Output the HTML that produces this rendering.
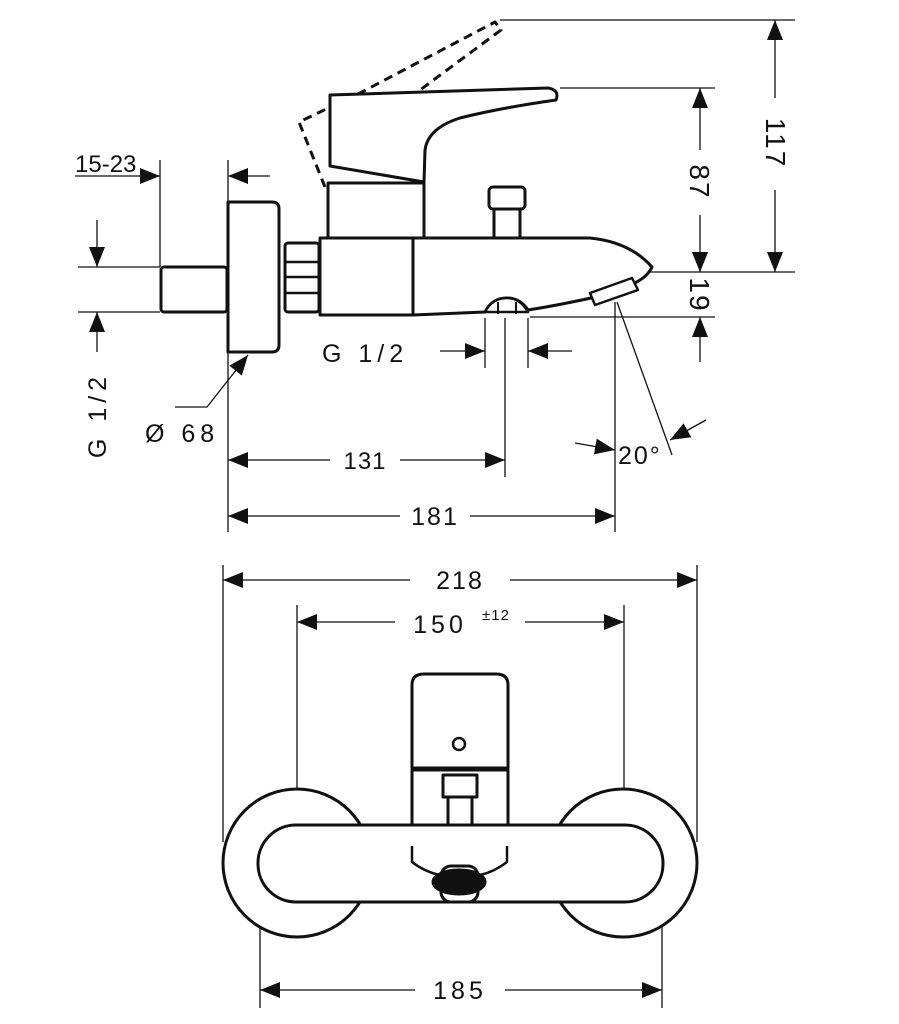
<!DOCTYPE html>
<html><head><meta charset="utf-8"><style>
html,body{margin:0;padding:0;background:#fff}
svg{display:block}
text{font-family:"Liberation Sans",sans-serif;font-size:25px;fill:#111;letter-spacing:2px}
</style></head><body>
<svg width="899" height="1024" viewBox="0 0 899 1024" xmlns="http://www.w3.org/2000/svg">
<defs>
<marker id="a" markerUnits="userSpaceOnUse" markerWidth="22" markerHeight="18" refX="20" refY="8" orient="auto">
<path d="M0,0 L20,8 L0,16 Z" fill="#111"/></marker>
</defs>
<g stroke="#111" fill="none" stroke-width="1.3">
<line x1="500" y1="20" x2="795" y2="20"/>
<line x1="560" y1="88" x2="715" y2="88"/>
<line x1="650" y1="272" x2="795" y2="272"/>
<line x1="530" y1="317" x2="715" y2="317"/>
<line x1="160" y1="160" x2="160" y2="267"/>
<line x1="228" y1="160" x2="228" y2="202"/>
<line x1="78" y1="267" x2="160" y2="267"/>
<line x1="78" y1="312" x2="160" y2="312"/>
<line x1="485" y1="318" x2="485" y2="368"/>
<line x1="528" y1="318" x2="528" y2="368"/>
<line x1="505" y1="318" x2="505" y2="477"/>
<line x1="228" y1="352" x2="228" y2="532"/>
<line x1="615" y1="302" x2="615" y2="532"/>
<line x1="617" y1="302" x2="672" y2="455"/>
<line x1="775" y1="98" x2="775" y2="20" marker-end="url(#a)"/>
<line x1="775" y1="190" x2="775" y2="272" marker-end="url(#a)"/>
<line x1="700" y1="150" x2="700" y2="88" marker-end="url(#a)"/>
<line x1="700" y1="215" x2="700" y2="272" marker-end="url(#a)"/>
<line x1="700" y1="362" x2="700" y2="317" marker-end="url(#a)"/>
<line x1="75" y1="176" x2="160" y2="176" marker-end="url(#a)"/>
<line x1="270" y1="176" x2="228" y2="176" marker-end="url(#a)"/>
<line x1="97" y1="220" x2="97" y2="267" marker-end="url(#a)"/>
<line x1="97" y1="352" x2="97" y2="312" marker-end="url(#a)"/>
<polyline points="175,407 207,407 248,355" marker-end="url(#a)"/>
<line x1="440" y1="351" x2="485" y2="351" marker-end="url(#a)"/>
<line x1="572" y1="351" x2="528" y2="351" marker-end="url(#a)"/>
<line x1="330" y1="460" x2="228" y2="460" marker-end="url(#a)"/>
<line x1="400" y1="460" x2="505" y2="460" marker-end="url(#a)"/>
<line x1="400" y1="516" x2="228" y2="516" marker-end="url(#a)"/>
<line x1="470" y1="516" x2="615" y2="516" marker-end="url(#a)"/>
<line x1="575" y1="443" x2="615" y2="450" marker-end="url(#a)"/>
<line x1="706" y1="420" x2="670" y2="440" marker-end="url(#a)"/>
<line x1="223" y1="565" x2="223" y2="842"/>
<line x1="697" y1="565" x2="697" y2="842"/>
<line x1="297" y1="605" x2="297" y2="788"/>
<line x1="624" y1="605" x2="624" y2="788"/>
<line x1="260" y1="888" x2="260" y2="1008"/>
<line x1="662" y1="888" x2="662" y2="1008"/>
<line x1="410" y1="580" x2="223" y2="580" marker-end="url(#a)"/>
<line x1="510" y1="580" x2="697" y2="580" marker-end="url(#a)"/>
<line x1="395" y1="622" x2="297" y2="622" marker-end="url(#a)"/>
<line x1="525" y1="622" x2="624" y2="622" marker-end="url(#a)"/>
<line x1="415" y1="990" x2="260" y2="990" marker-end="url(#a)"/>
<line x1="505" y1="990" x2="662" y2="990" marker-end="url(#a)"/>
</g>
<g stroke="#111" fill="#fff" stroke-width="3" stroke-linejoin="round">
<path d="M325,187 L299,122 L360,93 L495,22 L501,30 L416,93" stroke-dasharray="9,6" fill="none"/>
<rect x="161" y="267" width="66" height="45" rx="3"/>
<path d="M228,202 H272 Q279,202 279,209 V345 Q279,352 272,352 H228 Z"/>
<rect x="285" y="243" width="34" height="69" rx="3"/>
<line x1="286" y1="262" x2="318" y2="262" stroke-width="2.5"/>
<line x1="286" y1="277" x2="318" y2="277" stroke-width="2.5"/>
<line x1="286" y1="293" x2="318" y2="293" stroke-width="2.5"/>
<rect x="328" y="183" width="96" height="56"/>
<rect x="494" y="205" width="26" height="34"/>
<rect x="489" y="187" width="36" height="22" rx="4"/>
<path d="M320,238 H590 Q630,242 652,267 Q645,282 620,288 L600,296 Q560,305 528,310 Q520,298 507,298 Q492,298 485,312 L413,315 H320 Z"/>
<line x1="413" y1="238" x2="413" y2="315"/>
<path d="M485,312 Q492,298 507,298 Q520,298 528,312 Z" stroke-width="2.5"/>
<line x1="498" y1="302" x2="498" y2="314" stroke-width="2"/>
<line x1="516" y1="302" x2="516" y2="314" stroke-width="2"/>
<path d="M590,293 L632,278 L638,290 L595,305 Z" stroke-width="2.5"/>
<path d="M330,95 L548,88 Q560,90 556,100 Q500,108 460,118 Q428,128 425,150 L424,182 L330,166 Z"/>
<circle cx="297" cy="863" r="74"/>
<circle cx="623" cy="863" r="74"/>
<rect x="258" y="825" width="405" height="77" rx="38"/>
<rect x="412" y="770" width="96" height="55" fill="#fff"/>
<rect x="443" y="775" width="34" height="22"/>
<rect x="448" y="797" width="24" height="28"/>
<path d="M412,768 V685 Q412,674 424,674 H496 Q508,674 508,685 V768 Z"/>
<line x1="412" y1="768" x2="508" y2="768"/>
<circle cx="459" cy="744" r="6" stroke-width="2.5"/>
<path d="M412,846 V862 Q425,872 440,875 M507,846 V862 Q494,872 480,875" fill="none" stroke-width="2.5"/>
<rect x="441" y="866" width="37" height="36" rx="10"/>
<ellipse cx="459" cy="882" rx="26" ry="12" fill="#111"/>
</g>
<path d="M692,252 L708,252 L700,272 Z" fill="#111"/>
<g>
<text x="75" y="172" style="font-size:24px;letter-spacing:0">15-23</text>
<text transform="translate(766,143) rotate(90)" text-anchor="middle" style="font-size:28px">117</text>
<text transform="translate(690,182) rotate(90)" text-anchor="middle" style="font-size:28px">87</text>
<text transform="translate(690,295) rotate(90)" text-anchor="middle" style="font-size:28px">19</text>
<text transform="translate(106,415) rotate(-90)" text-anchor="middle" style="letter-spacing:5px">G 1/2</text>
<text x="145" y="442" style="letter-spacing:5px">Ø 68</text>
<text x="322" y="362" style="letter-spacing:5px">G 1/2</text>
<text x="365" y="469" text-anchor="middle" style="font-size:24px;letter-spacing:1px">131</text>
<text x="435" y="525" text-anchor="middle">181</text>
<text x="618" y="464">20°</text>
<text x="460" y="589" text-anchor="middle">218</text>
<text x="440" y="633" text-anchor="middle" style="letter-spacing:4px">150</text>
<text x="482" y="620" style="font-size:15px;letter-spacing:1px">±12</text>
<text x="460" y="999" text-anchor="middle" style="letter-spacing:4px">185</text>
</g>
</svg>
</body></html>
